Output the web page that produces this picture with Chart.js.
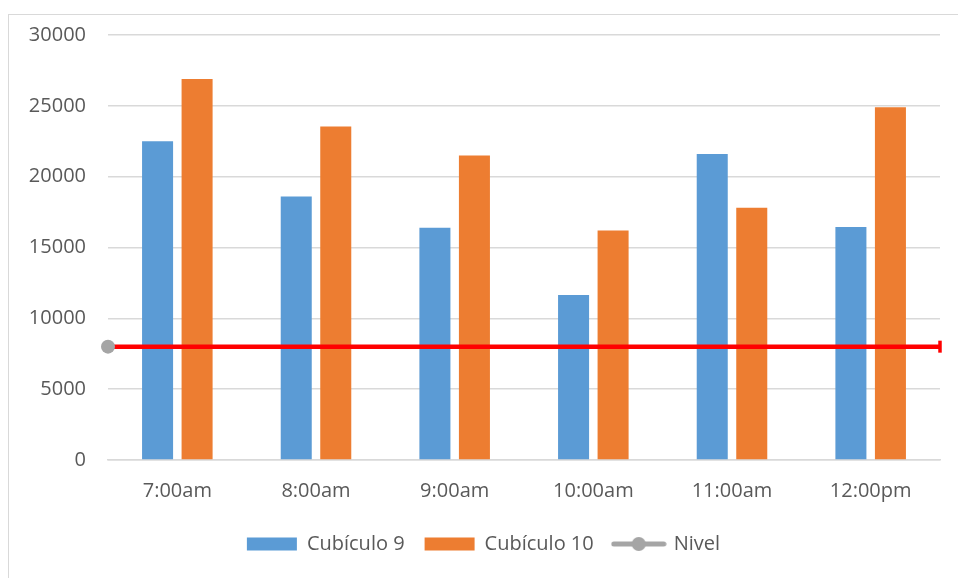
<!DOCTYPE html>
<html lang="es">
<head>
<meta charset="utf-8">
<title>Cubículos</title>
<script src="https://cdn.jsdelivr.net/npm/chart.js@4.4.1/dist/chart.umd.min.js"></script>
<style>
  html, body { margin: 0; padding: 0; background: #ffffff; }
  .wrap { position: relative; width: 958px; height: 578px; overflow: hidden; }
  .frame {
    position: absolute; left: 8px; top: 14px;
    width: 980px; height: 600px;
    border: 1px solid #d9d9d9; box-sizing: border-box;
  }
  canvas { position: absolute; left: 0; top: 0; }
</style>
</head>
<body>
<div class="wrap">
  <div class="frame"></div>
  <canvas id="cubiculosChart" width="958" height="578"></canvas>
  <canvas id="nivelChart" width="958" height="578"></canvas>
</div>
<script>
const horas = ["7:00am", "8:00am", "9:00am", "10:00am", "11:00am", "12:00pm"];
const cubiculo9 = [22500, 18600, 16400, 11650, 21600, 16450];
const cubiculo10 = [26900, 23550, 21500, 16200, 17800, 24900];
const nivel = 8000;
const yTicks = [0, 5000, 10000, 15000, 20000, 25000, 30000];
const yMax = 30000;

const textColor = "#595959";
const gridColor = "#d9d9d9";
const fontFamily = "'Open Sans', 'Liberation Sans', sans-serif";

// legend icon for the "Nivel" series: grey line with a dot in the middle
function makeNivelIcon() {
  const c = document.createElement("canvas");
  c.width = 56;
  c.height = 16;
  const g = c.getContext("2d");
  g.strokeStyle = "#a5a5a5";
  g.lineWidth = 5;
  g.lineCap = "round";
  g.beginPath();
  g.moveTo(3, 8);
  g.lineTo(53, 8);
  g.stroke();
  g.fillStyle = "#a5a5a5";
  g.beginPath();
  g.arc(28, 8, 7, 0, Math.PI * 2);
  g.fill();
  return c;
}
const nivelIcon = makeNivelIcon();

const barChart = new Chart(document.getElementById("cubiculosChart"), {
  type: "bar",
  data: {
    labels: horas,
    datasets: [
      {
        label: "Cubículo 9",
        data: cubiculo9,
        backgroundColor: "#5b9bd5",
        borderWidth: 0,
      },
      {
        label: "Cubículo 10",
        data: cubiculo10,
        backgroundColor: "#ed7d31",
        borderWidth: 0,
      },
    ],
  },
  options: {
    responsive: false,
    animation: false,
    categoryPercentage: 0.57,
    barPercentage: 0.785,
    layout: { padding: { left: 27, right: 18, top: 35, bottom: 14 } },
    plugins: {
      tooltip: { enabled: false },
      legend: {
        position: "bottom",
        labels: {
          color: textColor,
          font: { family: fontFamily, size: 20 },
          usePointStyle: true,
          pointStyleWidth: 50,
          boxHeight: 13,
          padding: 20,
          generateLabels(chart) {
            const items = Chart.defaults.plugins.legend.labels.generateLabels(chart);
            items.forEach(item => {
              item.pointStyle = "rect";
              item.lineWidth = 0;
              item.rotation = 0;
            });
            items.push({
              text: "Nivel",
              fillStyle: "#a5a5a5",
              strokeStyle: "#a5a5a5",
              fontColor: textColor,
              lineWidth: 0,
              pointStyle: nivelIcon,
              rotation: 0,
              hidden: false,
            });
            return items;
          },
        },
      },
    },
    scales: {
      x: {
        grid: { display: false, drawTicks: false },
        border: { display: true, color: gridColor, width: 1.5 },
        ticks: {
          color: textColor,
          font: { family: fontFamily, size: 20 },
          padding: 19,
          maxRotation: 0,
        },
        afterFit(scale) {
          scale.height = 54;
        },
      },
      y: {
        min: 0,
        max: yMax,
        grid: { color: gridColor, lineWidth: 1.5, drawTicks: false },
        border: { display: false },
        afterBuildTicks(scale) {
          scale.ticks = yTicks.map(v => ({ value: v }));
        },
        ticks: {
          color: textColor,
          font: { family: fontFamily, size: 20 },
          padding: 22,
          callback: value => String(value),
        },
        afterFit(scale) {
          scale.width = 81;
        },
      },
    },
  },
});

// "Nivel" reference line, drawn edge to edge over the bars in the same plot box
const area = barChart.chartArea;
new Chart(document.getElementById("nivelChart"), {
  type: "line",
  data: {
    datasets: [
      {
        label: "Nivel",
        data: [{ x: 0, y: nivel }, { x: 1, y: nivel }],
        borderColor: "#ff0000",
        borderWidth: 4.5,
        pointStyle: ["circle", "line"],
        pointRotation: [0, 90],
        pointRadius: [7, 6],
        pointBackgroundColor: ["#a5a5a5", "#ff0000"],
        pointBorderColor: ["#a5a5a5", "#ff0000"],
        pointBorderWidth: [0, 3.5],
        clip: false,
      },
    ],
  },
  options: {
    responsive: false,
    animation: false,
    layout: {
      padding: {
        left: area.left,
        right: barChart.width - area.right,
        top: area.top,
        bottom: barChart.height - area.bottom,
      },
    },
    plugins: {
      legend: { display: false },
      tooltip: { enabled: false },
    },
    scales: {
      x: { type: "linear", min: 0, max: 1, display: false },
      y: { min: 0, max: yMax, display: false },
    },
  },
});
</script>
</body>
</html>
